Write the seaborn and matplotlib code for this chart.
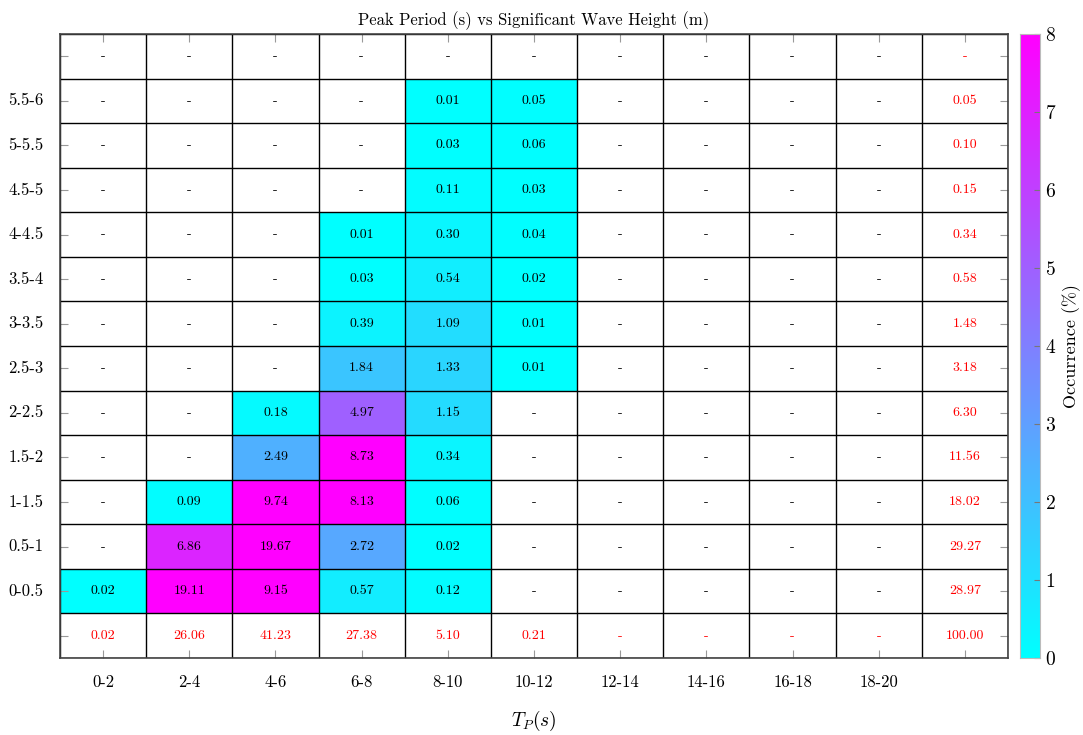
import numpy as np
import pandas as pd
import seaborn as sns
import matplotlib
matplotlib.use("Agg")
from matplotlib import pyplot as plt

# Tp bins (columns) and Hs bins (rows, top to bottom)
tp_labels = ['0-2', '2-4', '4-6', '6-8', '8-10', '10-12', '12-14', '14-16', '16-18', '18-20']
hs_labels = ['', '5.5-6', '5-5.5', '4.5-5', '4-4.5', '3.5-4', '3-3.5', '2.5-3',
             '2-2.5', '1.5-2', '1-1.5', '0.5-1', '0-0.5']

# occurrence (%) per Hs row, one value per Tp bin
occ = [
    [0, 0, 0, 0, 0, 0, 0, 0, 0, 0],
    [0, 0, 0, 0, 0.01, 0.05, 0, 0, 0, 0],
    [0, 0, 0, 0, 0.03, 0.06, 0, 0, 0, 0],
    [0, 0, 0, 0, 0.11, 0.03, 0, 0, 0, 0],
    [0, 0, 0, 0.01, 0.30, 0.04, 0, 0, 0, 0],
    [0, 0, 0, 0.03, 0.54, 0.02, 0, 0, 0, 0],
    [0, 0, 0, 0.39, 1.09, 0.01, 0, 0, 0, 0],
    [0, 0, 0, 1.84, 1.33, 0.01, 0, 0, 0, 0],
    [0, 0, 0.18, 4.97, 1.15, 0, 0, 0, 0, 0],
    [0, 0, 2.49, 8.73, 0.34, 0, 0, 0, 0, 0],
    [0, 0.09, 9.74, 8.13, 0.06, 0, 0, 0, 0, 0],
    [0, 6.86, 19.67, 2.72, 0.02, 0, 0, 0, 0, 0],
    [0.02, 19.11, 9.15, 0.57, 0.12, 0, 0, 0, 0, 0],
]
row_totals = [0, 0.05, 0.10, 0.15, 0.34, 0.58, 1.48, 3.18, 6.30, 11.56, 18.02, 29.27, 28.97]
col_totals = [0.02, 26.06, 41.23, 27.38, 5.10, 0.21, 0, 0, 0, 0]
grand_total = 100.00

plt.rcParams['font.family'] = ['cmr10', 'DejaVu Serif']
plt.rcParams['mathtext.fontset'] = 'cm'
plt.rcParams['axes.formatter.use_mathtext'] = True

nrow = len(hs_labels) + 1
ncol = len(tp_labels) + 1
grid = np.zeros((nrow, ncol))
grid[:len(hs_labels), :len(tp_labels)] = np.array(occ)
mask = grid <= 0

df = pd.DataFrame(grid, index=hs_labels + [''], columns=tp_labels + [''])

fig = plt.figure(figsize=(10.83, 7.35), dpi=100)
ax = fig.add_axes([0.0554, 0.1048, 0.8753, 0.849])
cax = fig.add_axes([0.9418, 0.1048, 0.0185, 0.849])

sns.heatmap(df, mask=mask, cmap='cool', vmin=0, vmax=8, ax=ax, cbar_ax=cax,
            cbar_kws={'ticks': range(0, 9)})

# cell text
for i in range(nrow):
    for j in range(ncol):
        if i < len(hs_labels) and j < len(tp_labels):
            v = occ[i][j]
            color = 'black'
        elif i < len(hs_labels):
            v = row_totals[i]
            color = 'red'
        elif j < len(tp_labels):
            v = col_totals[j]
            color = 'red'
        else:
            v = grand_total
            color = 'red'
        s = '%.2f' % v if v > 0 else '-'
        ax.text(j + 0.5, i + 0.5, s, ha='center', va='center', fontsize=10, color=color)

# grid lines
for i in range(nrow + 1):
    ax.axhline(i, color='black', lw=1.0)
for j in range(ncol + 1):
    ax.axvline(j, color='black', lw=1.0)

for sp in ax.spines.values():
    sp.set_visible(True)
    sp.set_color('#444444')
    sp.set_linewidth(1.2)

ax.tick_params(direction='in', top=True, right=True, length=6, width=0.8,
               color='#999999', labelsize=12, pad=12)
ax.set_yticklabels(hs_labels + [''], rotation=0)
ax.set_xticklabels(tp_labels + [''], rotation=0)
ax.set_xlabel('$T_P(s)$', fontsize=14)
ax.xaxis.set_label_coords(0.5, -0.082)
ax.set_ylabel('')
ax.set_title('Peak Period (s) vs Significant Wave Height (m)', fontsize=12, pad=6)

cax.tick_params(labelsize=14, length=4, color='#777777', direction='in')
cax.set_ylabel('Occurrence (%)', fontsize=13, labelpad=4)
for sp in cax.spines.values():
    sp.set_visible(True)
    sp.set_color('#bbbbbb')

fig.savefig('out.png', dpi=100)
